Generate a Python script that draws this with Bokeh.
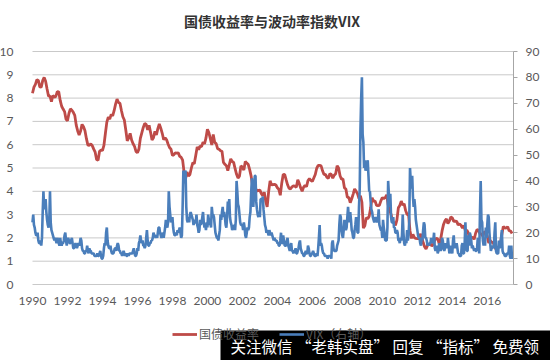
from bokeh.plotting import figure
from bokeh.models import Range1d, LinearAxis, FixedTicker, Label, Legend, LegendItem, BoxAnnotation
from bokeh.embed import file_html
from bokeh.resources import INLINE

# ---------------- data ----------------
title_text = "国债收益率与波动率指数VIX"
series_names = ["国债收益率", "VIX（右轴）"]
watermark_text = "关注微信 “老韩实盘” 回复 “指标” 免费领"

year_ticks = [1990, 1992, 1994, 1996, 1998, 2000, 2002, 2004, 2006, 2008, 2010, 2012, 2014, 2016]
left_ticks = [0, 1, 2, 3, 4, 5, 6, 7, 8, 9, 10]
right_ticks = [0, 10, 20, 30, 40, 50, 60, 70, 80, 90]

start_year = 1990
end_year = 2017.5
yield_per_year = 12   # monthly observations
vix_per_year = 24     # half-monthly observations

# 10-year Treasury yield (%), monthly, Jan 1990 - Jun 2017
yield_10y = [
    8.21, 8.47, 8.59, 8.79, 8.76, 8.48, 8.47, 8.75, 8.89, 8.72, 8.39, 8.08,
    8.09, 7.85, 8.11, 8.04, 8.07, 8.28, 8.27, 7.90, 7.65, 7.53, 7.42, 7.09,
    7.03, 7.34, 7.54, 7.48, 7.39, 7.26, 6.84, 6.59, 6.42, 6.59, 6.87, 6.77,
    6.60, 6.26, 5.98, 5.97, 6.04, 5.96, 5.81, 5.68, 5.36, 5.33, 5.72, 5.77,
    5.75, 5.97, 6.48, 6.97, 7.18, 7.10, 7.30, 7.24, 7.46, 7.74, 7.96, 7.81,
    7.78, 7.47, 7.20, 7.06, 6.63, 6.17, 6.28, 6.49, 6.20, 6.04, 5.93, 5.71,
    5.65, 5.81, 6.27, 6.51, 6.74, 6.91, 6.87, 6.64, 6.83, 6.53, 6.20, 6.30,
    6.58, 6.42, 6.69, 6.89, 6.71, 6.49, 6.22, 6.30, 6.21, 6.03, 5.88, 5.81,
    5.54, 5.57, 5.65, 5.64, 5.65, 5.50, 5.46, 5.34, 4.81, 4.53, 4.83, 4.65,
    4.72, 5.00, 5.23, 5.18, 5.54, 5.90, 5.79, 5.94, 5.92, 6.11, 6.03, 6.28,
    6.66, 6.52, 6.26, 5.99, 6.44, 6.10, 6.05, 5.83, 5.80, 5.74, 5.72, 5.24,
    5.16, 5.10, 4.89, 5.14, 5.39, 5.28, 5.24, 4.97, 4.73, 4.57, 4.65, 5.09,
    5.04, 4.91, 5.28, 5.21, 5.16, 4.93, 4.65, 4.26, 3.87, 3.94, 4.05, 4.03,
    4.05, 3.90, 3.81, 3.96, 3.57, 3.33, 3.98, 4.45, 4.27, 4.29, 4.30, 4.27,
    4.15, 4.08, 3.83, 4.35, 4.72, 4.73, 4.50, 4.28, 4.13, 4.10, 4.19, 4.23,
    4.22, 4.17, 4.50, 4.34, 4.14, 4.00, 4.18, 4.26, 4.20, 4.46, 4.54, 4.47,
    4.42, 4.57, 4.72, 4.99, 5.11, 5.11, 5.09, 4.88, 4.72, 4.73, 4.60, 4.56,
    4.76, 4.72, 4.56, 4.69, 4.75, 5.10, 5.00, 4.67, 4.52, 4.53, 4.15, 4.10,
    3.74, 3.74, 3.51, 3.68, 3.88, 4.10, 4.01, 3.89, 3.69, 3.81, 3.53, 2.42,
    2.52, 2.87, 2.82, 2.93, 3.29, 3.72, 3.56, 3.59, 3.40, 3.39, 3.40, 3.59,
    3.73, 3.69, 3.73, 3.85, 3.42, 3.20, 3.01, 2.70, 2.65, 2.54, 2.76, 3.29,
    3.39, 3.58, 3.41, 3.46, 3.17, 3.00, 3.00, 2.30, 1.98, 2.15, 2.01, 1.98,
    1.97, 1.97, 2.17, 2.05, 1.80, 1.62, 1.53, 1.68, 1.72, 1.75, 1.65, 1.72,
    1.91, 1.98, 1.96, 1.76, 1.93, 2.30, 2.58, 2.74, 2.81, 2.62, 2.72, 2.90,
    2.86, 2.71, 2.72, 2.71, 2.56, 2.60, 2.54, 2.42, 2.53, 2.30, 2.33, 2.21,
    1.88, 1.98, 2.04, 1.94, 2.20, 2.36, 2.32, 2.17, 2.17, 2.07, 2.26, 2.24,
    2.09, 1.78, 1.89, 1.81, 1.81, 1.64, 1.50, 1.56, 1.63, 1.76, 2.14, 2.49,
    2.43, 2.42, 2.48, 2.30, 2.30, 2.19,
]

# VIX, half-monthly, Jan 1990 - Jun 2017 (right axis)
vix = [
    24, 27, 23, 22, 20, 19, 19, 20, 17, 16, 16, 17, 15, 18, 28, 36, 29, 31, 33, 28, 25, 23, 22, 24,
    36, 24, 21, 20, 19, 18, 17, 18, 17, 16, 18, 17, 16, 15, 18, 16, 15, 16, 16, 17, 19, 20, 17, 15,
    17, 18, 17, 16, 16, 17, 18, 16, 14, 14, 15, 16, 15, 14, 15, 16, 15, 16, 18, 17, 14, 13, 13, 12,
    12, 13, 13, 15, 13, 12, 14, 13, 13, 12, 12, 12, 12, 11, 11, 11, 11, 12, 11, 11, 12, 13, 11, 10,
    10, 11, 14, 16, 15, 20, 22, 17, 15, 14, 14, 15, 13, 12, 12, 12, 13, 14, 14, 13, 15, 16, 15, 13,
    13, 12, 12, 11, 12, 13, 12, 11, 12, 11, 11, 12, 11, 12, 12, 12, 12, 12, 13, 14, 12, 11, 11, 12,
    14, 13, 16, 17, 19, 17, 16, 17, 15, 15, 14, 15, 18, 21, 17, 15, 15, 16, 16, 17, 17, 18, 20, 19,
    19, 18, 19, 18, 20, 22, 22, 20, 19, 18, 19, 20, 18, 20, 22, 25, 23, 22, 24, 36, 30, 27, 24, 25,
    26, 22, 20, 19, 19, 20, 19, 21, 20, 21, 22, 20, 18, 19, 30, 44, 39, 43, 44, 30, 25, 24, 26, 24,
    27, 28, 27, 26, 25, 23, 25, 24, 24, 27, 23, 22, 20, 21, 25, 23, 24, 26, 28, 24, 22, 23, 21, 24,
    22, 27, 25, 23, 24, 22, 30, 27, 27, 26, 23, 20, 19, 18, 18, 17, 19, 21, 27, 25, 28, 30, 26, 28,
    26, 23, 22, 26, 32, 30, 33, 26, 24, 23, 21, 22, 22, 23, 21, 25, 40, 36, 31, 30, 27, 24, 23, 23,
    23, 21, 24, 22, 19, 18, 20, 22, 21, 22, 26, 28, 35, 41, 33, 30, 36, 42, 42, 32, 29, 27, 26, 28,
    26, 33, 33, 32, 34, 29, 26, 23, 22, 20, 21, 20, 19, 21, 20, 19, 20, 19, 18, 17, 18, 17, 17, 17,
    16, 16, 15, 15, 17, 20, 16, 16, 19, 17, 15, 15, 15, 17, 18, 15, 14, 13, 15, 16, 13, 13, 12, 13,
    13, 14, 12, 12, 13, 14, 16, 17, 14, 13, 12, 12, 11, 11, 12, 13, 12, 12, 15, 14, 12, 11, 11, 12,
    12, 13, 12, 11, 11, 11, 12, 11, 14, 18, 23, 15, 16, 15, 13, 12, 12, 11, 11, 11, 11, 10, 11, 11,
    11, 11, 10, 16, 17, 14, 13, 13, 13, 13, 15, 16, 17, 23, 27, 26, 21, 19, 18, 21, 25, 22, 21, 22,
    26, 30, 26, 24, 28, 25, 21, 20, 18, 18, 21, 23, 26, 23, 20, 20, 30, 37, 60, 72, 80, 58, 55, 45,
    48, 44, 45, 46, 48, 42, 36, 36, 32, 29, 28, 26, 25, 24, 25, 26, 25, 24, 25, 29, 23, 22, 21, 21,
    18, 25, 22, 20, 17, 17, 17, 22, 40, 35, 30, 35, 26, 24, 24, 26, 22, 22, 20, 20, 21, 20, 17, 17,
    16, 18, 17, 19, 27, 20, 16, 15, 17, 16, 21, 17, 19, 25, 45, 40, 37, 42, 34, 30, 33, 30, 25, 23,
    21, 19, 18, 18, 16, 15, 18, 17, 21, 24, 23, 18, 18, 17, 15, 16, 15, 16, 16, 18, 17, 16, 17, 20,
    14, 13, 14, 15, 12, 13, 16, 14, 13, 14, 18, 17, 14, 13, 14, 16, 15, 14, 18, 15, 12, 13, 15, 13,
    12, 17, 19, 14, 16, 14, 16, 14, 12, 12, 11, 11, 11, 15, 16, 12, 12, 16, 24, 16, 13, 13, 19, 15,
    20, 19, 17, 14, 15, 14, 13, 14, 13, 13, 14, 18, 16, 12, 28, 40, 25, 24, 17, 15, 17, 15, 22, 18,
    23, 27, 26, 20, 16, 13, 14, 14, 15, 14, 20, 24, 13, 12, 12, 12, 17, 14, 15, 18, 21, 13, 12, 12,
    11, 11, 11, 12, 12, 12, 15, 11, 10, 15, 10, 11,
]

x_yield = [start_year + i / yield_per_year for i in range(len(yield_10y))]
x_vix = [start_year + i / vix_per_year for i in range(len(vix))]

# ---------------- layout (canvas pixels; the page renders the canvas at the window origin) ----------------
W, H = 550, 360
PLOT_L, PLOT_R, PLOT_T, PLOT_B = 32, 513, 51, 284
y_lo, y_hi = left_ticks[0], left_ticks[-1]
r_lo, r_hi = right_ticks[0], right_ticks[-1]
kx = (PLOT_R - PLOT_L) / (end_year - start_year)
ky = (PLOT_B - PLOT_T) / (y_hi - y_lo)
xr = Range1d(start_year - PLOT_L / kx, end_year + (W - PLOT_R) / kx)
yr = Range1d(y_lo - (H - PLOT_B) / ky, y_hi + PLOT_T / ky)
rscale = (r_hi - r_lo) / (y_hi - y_lo)
rr = Range1d(r_lo + (yr.start - y_lo) * rscale, r_lo + (yr.end - y_lo) * rscale)

# ---------------- style ----------------
RED = "#BE4B48"
BLUE = "#4A7EBB"
GRID = "#C9C9C9"
TXT = "#595959"
FONT = "Lato"
CJK = "Noto Sans CJK SC"

p = figure(
    width=W, height=H, title=None,
    output_backend="svg", toolbar_location=None,
    x_range=xr, y_range=yr,
    min_border=0, min_border_left=0, min_border_right=0, min_border_top=0, min_border_bottom=0,
)
p.extra_y_ranges = {"right": rr}
p.outline_line_color = None
p.background_fill_color = "white"
p.border_fill_color = "white"
p.grid.visible = False

# horizontal gridlines (one per left tick, across the plot area)
p.segment(x0=[start_year] * len(left_ticks), x1=[end_year] * len(left_ticks),
          y0=left_ticks, y1=left_ticks, line_color=GRID, line_width=1)

r1 = p.line(x_yield, yield_10y, line_color=RED, line_width=2.8)
r2 = p.line(x_vix, vix, line_color=BLUE, line_width=2.6, y_range_name="right")

# x axis
xa = p.xaxis[0]
xa.fixed_location = y_lo
xa.ticker = FixedTicker(ticks=year_ticks)
xa.major_label_overrides = {y: str(y) for y in year_ticks}
xa.axis_line_color = None
xa.major_tick_line_color = None
xa.minor_tick_line_color = None
xa.major_label_standoff = 6
xa.major_label_text_font = FONT
xa.major_label_text_font_size = "12px"
xa.major_label_text_color = TXT

# left y axis
ya = p.yaxis[0]
ya.fixed_location = start_year
ya.ticker = FixedTicker(ticks=left_ticks)
ya.axis_line_color = None
ya.major_tick_line_color = None
ya.minor_tick_line_color = None
ya.major_label_standoff = 13
ya.major_label_text_font = FONT
ya.major_label_text_font_size = "12px"
ya.major_label_text_color = TXT

# right y axis
ra = LinearAxis(y_range_name="right", ticker=FixedTicker(ticks=right_ticks),
                fixed_location=end_year, bounds=(r_lo, r_hi))
ra.axis_line_color = "#A6A6A6"
ra.major_tick_line_color = "#A6A6A6"
ra.major_tick_out = 4
ra.major_tick_in = 0
ra.minor_tick_line_color = None
ra.major_label_standoff = 8
ra.major_label_text_font = FONT
ra.major_label_text_font_size = "12px"
ra.major_label_text_color = TXT
p.add_layout(ra, "right")

# title
title = Label(
    x=271.5, y=H - 20.5, x_units="screen", y_units="screen",
    text=title_text, text_align="center", text_baseline="middle",
    text_font=CJK, text_font_size="14px", text_font_style="bold", text_color="#333333",
)
p.add_layout(title)

# legend
legend = Legend(
    items=[LegendItem(label=series_names[0], renderers=[r1]),
           LegendItem(label=series_names[1], renderers=[r2])],
    orientation="horizontal", location=(172, H - 335 - 7),
    background_fill_alpha=0, border_line_color=None, padding=0, margin=0,
    spacing=20, glyph_width=25, glyph_height=14, label_height=14, label_standoff=2,
    label_text_font=CJK, label_text_font_size="12px", label_text_color=TXT,
)
p.add_layout(legend)

# watermark overlay: black band (to the canvas edges) + white text
band = BoxAnnotation(
    left=220, right=W, top=H - 330, bottom=0,
    left_units="screen", right_units="screen", top_units="screen", bottom_units="screen",
    fill_color="black", fill_alpha=1.0, line_color=None, line_width=0,
)
p.add_layout(band)
wm = Label(
    x=230, y=H - 345, x_units="screen", y_units="screen",
    text=watermark_text, text_align="left", text_baseline="middle",
    text_font=CJK, text_font_size="15.5px", text_color="white",
)
p.add_layout(wm)

open("out.html", "w").write(file_html(p, INLINE))
